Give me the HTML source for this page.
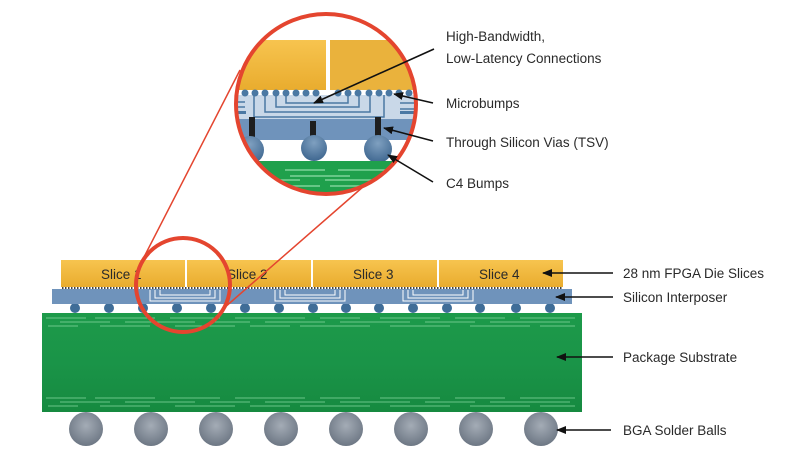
<!DOCTYPE html>
<html><head><meta charset="utf-8"><style>
html,body{margin:0;padding:0;background:#fff;}
svg{display:block;font-family:"Liberation Sans",sans-serif;}
text{fill:#2a2a2a;font-size:13.5px;}
</style></head><body>
<svg width="800" height="455" viewBox="0 0 800 455" xmlns="http://www.w3.org/2000/svg">
<defs>
<linearGradient id="gold" x1="0" y1="0" x2="0" y2="1"><stop offset="0" stop-color="#f7c44f"/><stop offset="1" stop-color="#e9ac2e"/></linearGradient>
<linearGradient id="green" x1="0" y1="0" x2="0" y2="1"><stop offset="0" stop-color="#1d9a4a"/><stop offset="0.5" stop-color="#1a9448"/><stop offset="1" stop-color="#168a40"/></linearGradient>
<radialGradient id="ball" cx="0.5" cy="0.4" r="0.6"><stop offset="0" stop-color="#a4acb6"/><stop offset="1" stop-color="#6d7784"/></radialGradient>
<radialGradient id="c4" cx="0.5" cy="0.3" r="0.7"><stop offset="0" stop-color="#7fa0c0"/><stop offset="1" stop-color="#3f6790"/></radialGradient>
<clipPath id="cc"><circle cx="326" cy="104" r="90"/></clipPath>
<marker id="ah" markerWidth="10" markerHeight="8" refX="9" refY="4" orient="auto" markerUnits="userSpaceOnUse"><path d="M0,0 L10,4 L0,8 z" fill="#111"/></marker>
</defs>

<rect x="42" y="313" width="540" height="99" fill="url(#green)"/>
<g stroke="#7fd39a" stroke-width="1" opacity="0.8">
<path d="M46,318h40M95,318h60M170,318h50M235,318h70M320,318h40M380,318h60M455,318h50M520,318h55M60,322h50M125,322h70M210,322h40M265,322h60M340,322h70M425,322h50M490,322h80M48,326h30M100,326h50M175,326h60M250,326h40M300,326h70M390,326h60M470,326h60M540,326h35"/>
<path d="M46,398h40M95,398h60M170,398h50M235,398h70M320,398h40M380,398h60M455,398h50M520,398h55M60,402h50M125,402h70M210,402h40M265,402h60M340,402h70M425,402h50M490,402h80M48,406h30M100,406h50M175,406h60M250,406h40M300,406h70M390,406h60M470,406h60M540,406h35"/>
</g>
<g fill="url(#ball)">
<circle cx="86" cy="429" r="17"/><circle cx="151" cy="429" r="17"/><circle cx="216" cy="429" r="17"/><circle cx="281" cy="429" r="17"/><circle cx="346" cy="429" r="17"/><circle cx="411" cy="429" r="17"/><circle cx="476" cy="429" r="17"/><circle cx="541" cy="429" r="17"/>
</g>
<g fill="#3f6d98">
<circle cx="75" cy="308" r="5"/><circle cx="109" cy="308" r="5"/><circle cx="143" cy="308" r="5"/><circle cx="177" cy="308" r="5"/><circle cx="211" cy="308" r="5"/><circle cx="245" cy="308" r="5"/><circle cx="279" cy="308" r="5"/><circle cx="313" cy="308" r="5"/><circle cx="346" cy="308" r="5"/><circle cx="379" cy="308" r="5"/><circle cx="413" cy="308" r="5"/><circle cx="447" cy="308" r="5"/><circle cx="480" cy="308" r="5"/><circle cx="516" cy="308" r="5"/><circle cx="550" cy="308" r="5"/>
</g>
<rect x="52" y="289" width="520" height="15" fill="#6f93bb"/>
<line x1="62" y1="288" x2="563" y2="288" stroke="#444" stroke-width="2" stroke-dasharray="1.5,1.5"/>
<g fill="none" stroke="#fff" stroke-width="1">
<path d="M155,290v8h60v-8M160,290v5h50v-5M150,290v11h70v-11"/>
<path d="M280,290v8h60v-8M285,290v5h50v-5M275,290v11h70v-11"/>
<path d="M408,290v8h60v-8M413,290v5h50v-5M403,290v11h70v-11"/>
</g>
<g fill="url(#gold)">
<rect x="61" y="260" width="124" height="27"/><rect x="187" y="260" width="124" height="27"/><rect x="313" y="260" width="124" height="27"/><rect x="439" y="260" width="124" height="27"/>
</g>
<g style="font-size:15px">
<text x="101" y="279">Slice 1</text><text x="227" y="279">Slice 2</text><text x="353" y="279">Slice 3</text><text x="479" y="279">Slice 4</text>
</g>

<g clip-path="url(#cc)">
<rect x="230" y="10" width="200" height="190" fill="#fff"/>
<rect x="230" y="40" width="96" height="50" fill="url(#gold)"/>
<rect x="330" y="40" width="100" height="50" fill="#eab23c"/>
<rect x="230" y="95" width="200" height="24" fill="#c9d8e8"/>
<rect x="230" y="119" width="200" height="21" fill="#6f93bb"/>
<g fill="#4a78a3">
<circle cx="245" cy="93" r="3.5"/><circle cx="255" cy="93" r="3.5"/><circle cx="265" cy="93" r="3.5"/><circle cx="276" cy="93" r="3.5"/><circle cx="286" cy="93" r="3.5"/><circle cx="296" cy="93" r="3.5"/><circle cx="306" cy="93" r="3.5"/><circle cx="316" cy="93" r="3.5"/><circle cx="338" cy="93" r="3.5"/><circle cx="348" cy="93" r="3.5"/><circle cx="358" cy="93" r="3.5"/><circle cx="369" cy="93" r="3.5"/><circle cx="379" cy="93" r="3.5"/><circle cx="389" cy="93" r="3.5"/><circle cx="399" cy="93" r="3.5"/><circle cx="409" cy="93" r="3.5"/>
</g>
<g fill="none" stroke="#4a78a3" stroke-width="1.5">
<path d="M265,95v17h105v-17M276,95v12h83v-12M286,95v8h62v-8M254,95v22h130v-22M245,102h-10M245,107h-10"/>
<path d="M400,103h15M400,109h15"/>
</g>
<rect x="236" y="111" width="10" height="3" fill="#4a78a3"/>
<rect x="400" y="111" width="15" height="3" fill="#4a78a3"/>
<g fill="#1e1e1e"><rect x="249" y="117" width="6" height="23"/><rect x="310" y="121" width="6" height="19"/><rect x="375" y="117" width="6" height="23"/></g>
<g fill="url(#c4)"><circle cx="250" cy="150" r="14"/><circle cx="314" cy="148" r="13"/><circle cx="378" cy="149" r="14"/></g>
<rect x="230" y="161" width="200" height="40" fill="#1fa04c"/>
<g stroke="#7fd39a" stroke-width="1.5"><path d="M285,170h40M338,170h50M290,176h60M260,180h40M325,180h70M290,186h30M330,186h40"/></g>
</g>
<circle cx="326" cy="104" r="90" fill="none" stroke="#e4452f" stroke-width="4"/>
<circle cx="183" cy="285" r="47" fill="none" stroke="#e4452f" stroke-width="4"/>
<g stroke="#e4452f" stroke-width="1.5">
<line x1="142" y1="261" x2="240" y2="70"/>
<line x1="224" y1="308" x2="364" y2="186"/>
</g>

<g stroke="#111" stroke-width="1.6" marker-end="url(#ah)">
<line x1="434" y1="49" x2="314" y2="103"/>
<line x1="433" y1="103" x2="394" y2="94"/>
<line x1="433" y1="141" x2="384" y2="128"/>
<line x1="433" y1="182" x2="388" y2="155"/>
<line x1="613" y1="273" x2="543" y2="273"/>
<line x1="613" y1="297" x2="556" y2="297"/>
<line x1="613" y1="357" x2="557" y2="357"/>
<line x1="611" y1="430" x2="557" y2="430"/>
</g>
<text x="446" y="41">High-Bandwidth,</text>
<text x="446" y="63">Low-Latency Connections</text>
<text x="446" y="108">Microbumps</text>
<text x="446" y="147">Through Silicon Vias (TSV)</text>
<text x="446" y="188">C4 Bumps</text>
<text x="623" y="278">28 nm FPGA Die Slices</text>
<text x="623" y="302">Silicon Interposer</text>
<text x="623" y="362">Package Substrate</text>
<text x="623" y="435">BGA Solder Balls</text>
</svg>
</body></html>
